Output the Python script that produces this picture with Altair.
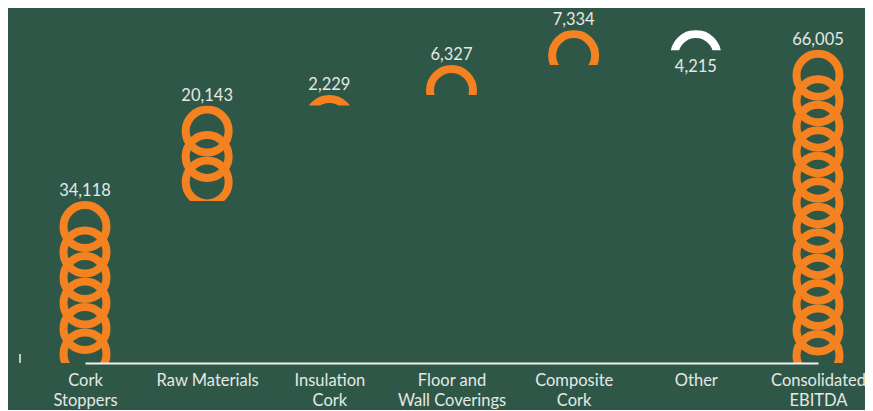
import altair as alt
import pandas as pd

# ---- data ----
categories = ["Cork|Stoppers", "Raw Materials", "Insulation|Cork",
              "Floor and|Wall Coverings", "Composite|Cork", "Other",
              "Consolidated|EBITDA"]
values = [34118, 20143, 2229, 6327, 7334, -4215, 66005]
is_total = [False, False, False, False, False, False, True]
value_labels = ["34,118", "20,143", "2,229", "6,327", "7,334", "4,215", "66,005"]

# ---- style ----
BG = "#2f5747"
ORANGE = "#f58220"
NEG = "#ffffff"
TEXT = "#e4e9e6"
AXIS = "#f0f0f0"
FONT = "Lato"

Y_MAX = 73130          # top of the value scale
RING_R = 5370          # outer ring radius expressed in value units
RING_STEP = 5370       # vertical spacing of the stacked rings, value units

# ---- waterfall table ----
rows = []
running = 0
for cat, v, tot, lab in zip(categories, values, is_total, value_labels):
    if tot:
        start, end = 0, v
    else:
        start, end = running, running + v
        running = end
    top, bottom = max(start, end), min(start, end)
    rows.append(dict(cat=cat, start=start, end=end, top=top, bottom=bottom,
                     label=lab, neg=v < 0, col=NEG if v < 0 else ORANGE,
                     ymax=Y_MAX, zero=0))
bars = pd.DataFrame(rows)

ring_rows = []
for r in rows:
    n = max(1, int(abs(r["top"] - r["bottom"]) // RING_STEP))
    for k in range(n):
        ring_rows.append(dict(cat=r["cat"], c=r["top"] - RING_R - k * RING_STEP,
                              col=r["col"]))
rings = pd.DataFrame(ring_rows)

xscale = alt.Scale(type="point", domain=categories, range=[65, 798], padding=0)
yscale = alt.Scale(domain=[0, Y_MAX], nice=False, zero=True)
xaxis = alt.Axis(title=None, domainColor=AXIS, domainWidth=2, ticks=False,
                 tickSize=0, labelPadding=9, labelFont=FONT, labelFontSize=16.5,
                 labelColor=TEXT, labelLineHeight=20, labelAngle=0,
                 labelExpr="split(datum.label, '|')", labelLimit=300,
                 grid=False, zindex=1)
X = alt.X("cat:N", scale=xscale, axis=xaxis)

ring_layer = alt.Chart(rings).mark_point(
    shape="circle", filled=False, size=1849, strokeWidth=8, opacity=1, clip=True
).encode(
    x=X,
    y=alt.Y("c:Q", scale=yscale, axis=None),
    color=alt.Color("col:N", scale=None),
)

mask_above = alt.Chart(bars).mark_bar(width=64, color=BG, clip=True).encode(
    x=X,
    y=alt.Y("top:Q", scale=yscale, axis=None),
    y2="ymax:Q",
)
mask_below = alt.Chart(bars).mark_bar(width=64, color=BG, clip=True).encode(
    x=X,
    y=alt.Y("zero:Q", scale=yscale, axis=None),
    y2="bottom:Q",
)

pos_text = alt.Chart(bars).transform_filter("!datum.neg").mark_text(
    font=FONT, fontSize=16.5, color=TEXT, baseline="alphabetic", dy=-5
).encode(
    x=X,
    y=alt.Y("top:Q", scale=yscale, axis=None),
    text="label:N",
)
neg_text = alt.Chart(bars).transform_filter("datum.neg").mark_text(
    font=FONT, fontSize=16.5, color=TEXT, baseline="alphabetic", dy=22
).encode(
    x=X,
    y=alt.Y("bottom:Q", scale=yscale, axis=None),
    text="label:N",
)

corner = alt.Chart(bars).mark_rule(color=AXIS, strokeWidth=1.5).encode(
    x=alt.value(0), y=alt.value(338), y2=alt.value(347)
).transform_filter("datum.cat == 'Other'")

chart = alt.layer(
    ring_layer, mask_above, mask_below, pos_text, neg_text, corner
).properties(
    width=845, height=347,
    padding={"left": 12, "top": 8, "right": 0, "bottom": 47},
    autosize=alt.AutoSizeParams(type="none"),
).configure(background=BG).configure_view(strokeWidth=0)

chart.save("out.html", embed_options={"renderer": "svg", "actions": False})
